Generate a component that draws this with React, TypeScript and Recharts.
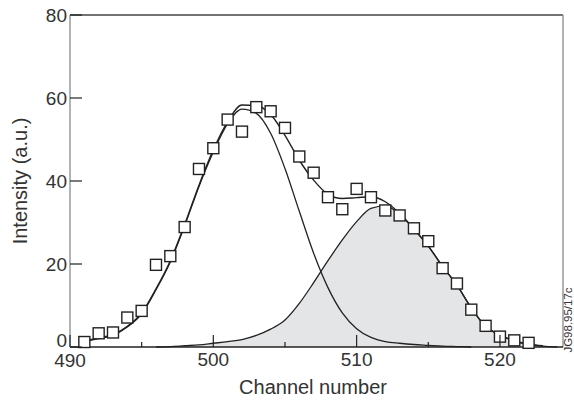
import { ComposedChart, XAxis, YAxis, Line, Area, Scatter, ReferenceLine, Label } from "recharts";

// channels for the fitted curves
const channels = [
  491, 492, 493, 494, 495, 496, 497, 498, 499, 500, 501, 502, 503, 504, 505, 506, 507,
  508, 509, 510, 511, 512, 513, 514, 515, 516, 517, 518, 519, 520, 521, 522, 523, 524,
];
const fitTotal = [
  1.5, 2.2, 3.0, 5.0, 8.2, 14.0, 20.8, 29.5, 39.0, 47.5, 54.3, 58.3, 58.2, 56.0, 51.0, 45.0, 40.2,
  36.8, 35.8, 36.0, 36.2, 35.0, 32.2, 28.4, 24.3, 19.4, 14.9, 9.4, 5.0, 2.9, 1.5, 0.7, 0.3, null,
];
const peakOne = [
  1.3, 2.0, 2.8, 4.8, 8.0, 13.8, 20.5, 29.2, 38.7, 47.0, 53.8, 57.3, 56.3, 51.5, 43.0, 32.7, 22.6,
  14.3, 8.2, 4.4, 2.3, 1.3, 0.9, 0.6, 0.4, 0.2, 0.1, 0, null, null, null, null, null, null,
];
const peakTwo = [
  null, null, null, null, null, 0, 0.1, 0.3, 0.5, 0.9, 1.3, 1.8, 2.8, 4.3, 6.5, 10.5, 15.5,
  20.8, 25.8, 30.2, 33.4, 34.0, 32.0, 28.4, 24.3, 19.4, 14.9, 9.4, 5.0, 2.9, 1.4, 0.6, 0.2, 0,
];

// measured points
const pointChannels = [
  491, 492, 493, 494, 495, 496, 497, 498, 499, 500, 501, 502, 503, 504, 505, 506,
  507, 508, 509, 510, 511, 512, 513, 514, 515, 516, 517, 518, 519, 520, 521, 522,
];
const pointIntensity = [
  1.2, 3.3, 3.5, 7.1, 8.7, 19.8, 21.9, 28.9, 42.9, 47.9, 54.8, 51.9, 57.8, 56.8, 52.8, 45.9,
  42.0, 36.1, 33.2, 38.1, 36.1, 32.9, 31.7, 28.6, 25.5, 19.0, 15.3, 9.0, 5.1, 2.5, 1.6, 1.0,
];

const xTicks = [490, 495, 500, 505, 510, 515, 520];
const yTicks = [0, 20, 40, 60, 80];
const xMax = 524.4;

const font = "'Liberation Sans', Arial, Helvetica, sans-serif";
const ink = "#222";
const textColor = "#333";

const curveData = channels.map((c, i) => ({ channel: c, total: fitTotal[i], g1: peakOne[i], g2: peakTwo[i] }));
const pointData = pointChannels.map((c, i) => ({ channel: c, intensity: pointIntensity[i] }));

const XTick = (props: any) => {
  const { x, y, payload } = props;
  const v = payload.value;
  const major = v % 10 === 0;
  return (
    <g>
      <line x1={x} x2={x} y1={y} y2={y - (major ? 12 : 5)} stroke={ink} strokeWidth={1.2} />
      {major && (
        <text x={x} y={y + (v === 490 ? 20 : 19)} textAnchor="middle" fontSize={19} fontFamily={font} fill={textColor}>
          {v}
        </text>
      )}
    </g>
  );
};

const YTick = (props: any) => {
  const { x, y, payload } = props;
  return (
    <g>
      <line x1={x} x2={x + 12} y1={y} y2={y} stroke={ink} strokeWidth={1.2} />
      <text
        x={x - 3}
        y={payload.value === 0 ? y - 7 : y}
        dy="0.35em"
        textAnchor="end"
        fontSize={19}
        fontFamily={font}
        fill={textColor}
      >
        {payload.value}
      </text>
    </g>
  );
};

const Square = (props: any) => {
  const { cx, cy } = props;
  return <rect x={cx - 5.5} y={cy - 5.5} width={11} height={11} fill="#fff" stroke={ink} strokeWidth={1.4} />;
};

export default function App() {
  return (
    <div style={{ position: "absolute", left: 0, top: 0 }}>
      <ComposedChart width={574} height={400} data={curveData} margin={{ top: 15, right: 11, bottom: 0, left: 10 }}>
        <XAxis
          dataKey="channel"
          type="number"
          domain={[490, xMax]}
          ticks={xTicks}
          interval={0}
          allowDataOverflow
          tickLine={false}
          tickSize={0}
          tickMargin={0}
          tick={<XTick />}
          axisLine={{ stroke: ink, strokeWidth: 1.3 }}
          height={53}
        >
          <Label
            content={() => (
              <text x={313} y={394} textAnchor="middle" fontSize={20} fontFamily={font} fill={textColor}>
                Channel number
              </text>
            )}
          />
        </XAxis>
        <YAxis
          type="number"
          domain={[0, 80]}
          ticks={yTicks}
          interval={0}
          tickLine={false}
          tickSize={0}
          tickMargin={0}
          tick={<YTick />}
          axisLine={{ stroke: "#8a8a8a", strokeWidth: 1.3 }}
          width={60}
        >
          <Label
            content={() => (
              <text
                x={20}
                y={181}
                transform="rotate(-90 20 181)"
                textAnchor="middle"
                dominantBaseline="central"
                fontSize={20}
                fontFamily={font}
                fill={textColor}
              >
                Intensity (a.u.)
              </text>
            )}
          />
        </YAxis>
        <ReferenceLine y={80} stroke="#444" strokeWidth={1.3} />
        <ReferenceLine x={xMax} stroke="#8a8a8a" strokeWidth={1.3}>
          <Label
            content={() => (
              <text
                x={568}
                y={320}
                transform="rotate(-90 568 320)"
                textAnchor="middle"
                dominantBaseline="central"
                fontSize={11.5}
                fontFamily={font}
                fill={textColor}
              >
                JG98.95/17c
              </text>
            )}
          />
        </ReferenceLine>
        <Area
          type="monotone"
          dataKey="g2"
          fill="#e4e5e7"
          fillOpacity={1}
          stroke={ink}
          strokeWidth={1.3}
          isAnimationActive={false}
          dot={false}
          activeDot={false}
        />
        <Line type="monotone" dataKey="g1" stroke={ink} strokeWidth={1.3} dot={false} activeDot={false} isAnimationActive={false} />
        <Line type="monotone" dataKey="total" stroke={ink} strokeWidth={1.4} dot={false} activeDot={false} isAnimationActive={false} />
        <Scatter data={pointData} dataKey="intensity" shape={<Square />} isAnimationActive={false} />
      </ComposedChart>
    </div>
  );
}
